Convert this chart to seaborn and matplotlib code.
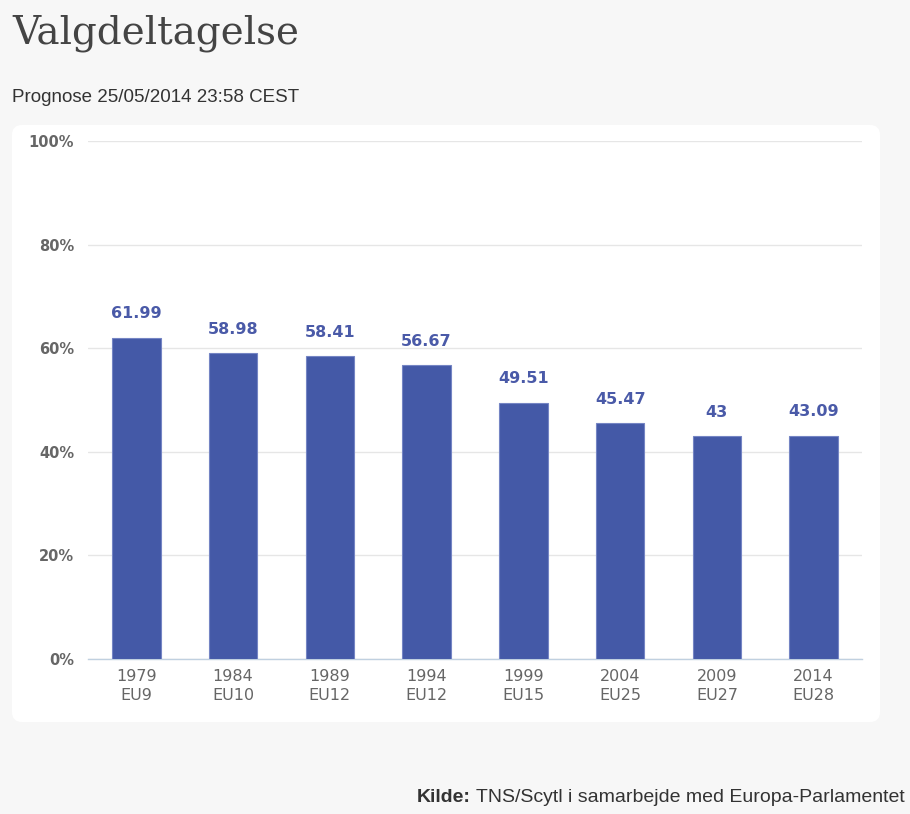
import matplotlib
matplotlib.use("Agg")
import matplotlib.pyplot as plt
from matplotlib.patches import FancyBboxPatch
import seaborn as sns
import pandas as pd

# data
years = ["1979", "1984", "1989", "1994", "1999", "2004", "2009", "2014"]
groups = ["EU9", "EU10", "EU12", "EU12", "EU15", "EU25", "EU27", "EU28"]
turnout = [61.99, 58.98, 58.41, 56.67, 49.51, 45.47, 43, 43.09]
value_labels = ["61.99", "58.98", "58.41", "56.67", "49.51", "45.47", "43", "43.09"]

df = pd.DataFrame({"label": [y + "\n" + g for y, g in zip(years, groups)],
                   "turnout": turnout})

sns.set_theme(style="white")
plt.rcParams["font.family"] = ["Liberation Sans", "DejaVu Sans"]

W, H = 910, 814
fig = plt.figure(figsize=(W / 100, H / 100), dpi=100)
fig.patch.set_facecolor("#f7f7f7")

# white panel behind the chart
bg = fig.add_axes([0, 0, 1, 1], zorder=-1)
bg.axis("off")
bg.set_xlim(0, W)
bg.set_ylim(H, 0)
bg.add_patch(FancyBboxPatch((12, 125), 868, 597,
                            boxstyle="round,pad=0,rounding_size=10",
                            facecolor="white", edgecolor="none"))

ax = fig.add_axes([88 / W, (H - 659) / H, (862 - 88) / W, (659 - 141) / H])
ax.set_facecolor("none")

bar_color = "#4459a7"
sns.barplot(data=df, x="label", y="turnout", color=bar_color, width=0.5,
            saturation=1, ax=ax, zorder=3, edgecolor="#7585c4", linewidth=0.8)

ax.set_ylim(0, 100)
ax.set_xlim(-0.5, len(years) - 0.5)
ax.set_yticks([0, 20, 40, 60, 80, 100])
ax.set_yticklabels(["0%", "20%", "40%", "60%", "80%", "100%"],
                   fontsize=10.5, fontweight="bold", color="#666666",
                   family="DejaVu Sans")
ax.yaxis.grid(True, color="#e6e6e6", linewidth=1)
ax.set_axisbelow(True)
ax.tick_params(axis="y", length=0, pad=10)

ax.set_xticks(range(len(years)))
ax.set_xticklabels(df["label"], fontsize=11.5, color="#666666", linespacing=1.35,
                   family="DejaVu Sans")
ax.tick_params(axis="x", length=0, pad=7)
# minor ticks at category boundaries
ax.set_xticks([i - 0.5 for i in range(len(years) + 1)], minor=True)
ax.tick_params(axis="x", which="minor", length=6, color="#c0d0e0", width=1)

for s in ["top", "right", "left"]:
    ax.spines[s].set_visible(False)
ax.spines["bottom"].set_color("#c0d0e0")
ax.spines["bottom"].set_linewidth(1)
ax.set_xlabel("")
ax.set_ylabel("")

for i, (v, t) in enumerate(zip(turnout, value_labels)):
    ax.annotate(t, (i, v), xytext=(0, 12), textcoords="offset points",
                ha="center", va="bottom", fontsize=11.5, fontweight="bold",
                color="#4a5aa8", family="DejaVu Sans")

fig.text(12 / W, 1 - 33 / H, "Valgdeltagelse", family=["DejaVu Serif"],
         fontsize=28, color="#444444", va="center", ha="left")
fig.text(12 / W, 1 - 97 / H, "Prognose 25/05/2014 23:58 CEST", fontsize=13.5,
         color="#333333", va="center", ha="left")
fig.text(905 / W, 1 - 797 / H, "TNS/Scytl i samarbejde med Europa-Parlamentet",
         fontsize=14, color="#333333", va="center", ha="right")
fig.text(417 / W, 1 - 797 / H, "Kilde:", fontsize=14, fontweight="bold",
         color="#333333", va="center", ha="left")

fig.savefig("out.png", dpi=100, facecolor=fig.get_facecolor())
